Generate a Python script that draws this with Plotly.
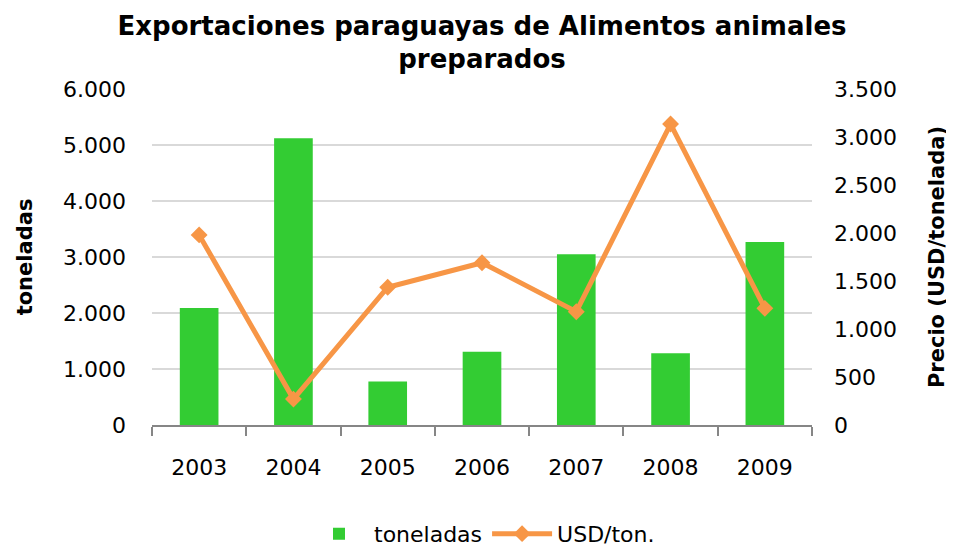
import plotly.graph_objects as go

years = ["2003", "2004", "2005", "2006", "2007", "2008", "2009"]
toneladas = [2090, 5120, 775, 1310, 3050, 1280, 3270]
usd_ton = [1980, 270, 1435, 1690, 1180, 3135, 1215]

left_ticks = [0, 1000, 2000, 3000, 4000, 5000, 6000]
right_ticks = [0, 500, 1000, 1500, 2000, 2500, 3000, 3500]

FONT = "DejaVu Sans"

fig = go.Figure()
fig.add_trace(go.Bar(
    x=years, y=toneladas, name="toneladas",
    marker=dict(color="#33CC33", line=dict(width=0)),
    yaxis="y",
))
fig.add_trace(go.Scatter(
    x=years, y=usd_ton, name="USD/ton.",
    mode="lines+markers",
    line=dict(color="#F79646", width=5),
    marker=dict(symbol="diamond", size=13, color="#F79646"),
    yaxis="y2",
))

fig.update_layout(
    width=946, height=542,
    margin=dict(l=144, r=142, t=81, b=125, autoexpand=False),
    paper_bgcolor="white", plot_bgcolor="white",
    separators=",.",
    font=dict(family=FONT, size=22, color="#000000"),
    title=dict(
        text="<b>Exportaciones paraguayas de Alimentos animales<br>preparados</b>",
        x=0.5, xref="paper", xanchor="center",
        y=0.951, yref="container", yanchor="middle",
        font=dict(family=FONT, size=26, color="#000000"),
    ),
    bargap=0.59,
    showlegend=True,
    legend=dict(
        orientation="h", x=0.5, xanchor="center",
        y=-0.324, yanchor="middle",
        font=dict(family=FONT, size=22),
        itemwidth=60,
        traceorder="normal",
    ),
    xaxis=dict(
        type="category", automargin=False,
        showline=True, linecolor="#868686", linewidth=2,
        ticks="outside", tickson="boundaries", ticklen=9,
        tickcolor="#868686", tickwidth=2,
        ticklabelstandoff=22,
        showgrid=False,
        tickfont=dict(size=22),
    ),
    yaxis=dict(
        range=[0, 6000], automargin=False,
        tickvals=left_ticks, tickformat=",d",
        showgrid=True, gridcolor="#D9D9D9", gridwidth=2,
        showline=False, zeroline=False,
        ticks="", ticklabelstandoff=25,
        tickfont=dict(size=22),
        title=dict(text="<b>toneladas</b>", font=dict(size=21), standoff=24),
    ),
    yaxis2=dict(
        range=[0, 3500], automargin=False,
        tickvals=right_ticks, tickformat=",d",
        overlaying="y", side="right",
        showgrid=False, showline=False, zeroline=False,
        ticks="", ticklabelstandoff=21,
        tickfont=dict(size=22),
        title=dict(text="<b>Precio (USD/tonelada)</b>", font=dict(size=21), standoff=33),
    ),
)

fig.write_html("out.html")
